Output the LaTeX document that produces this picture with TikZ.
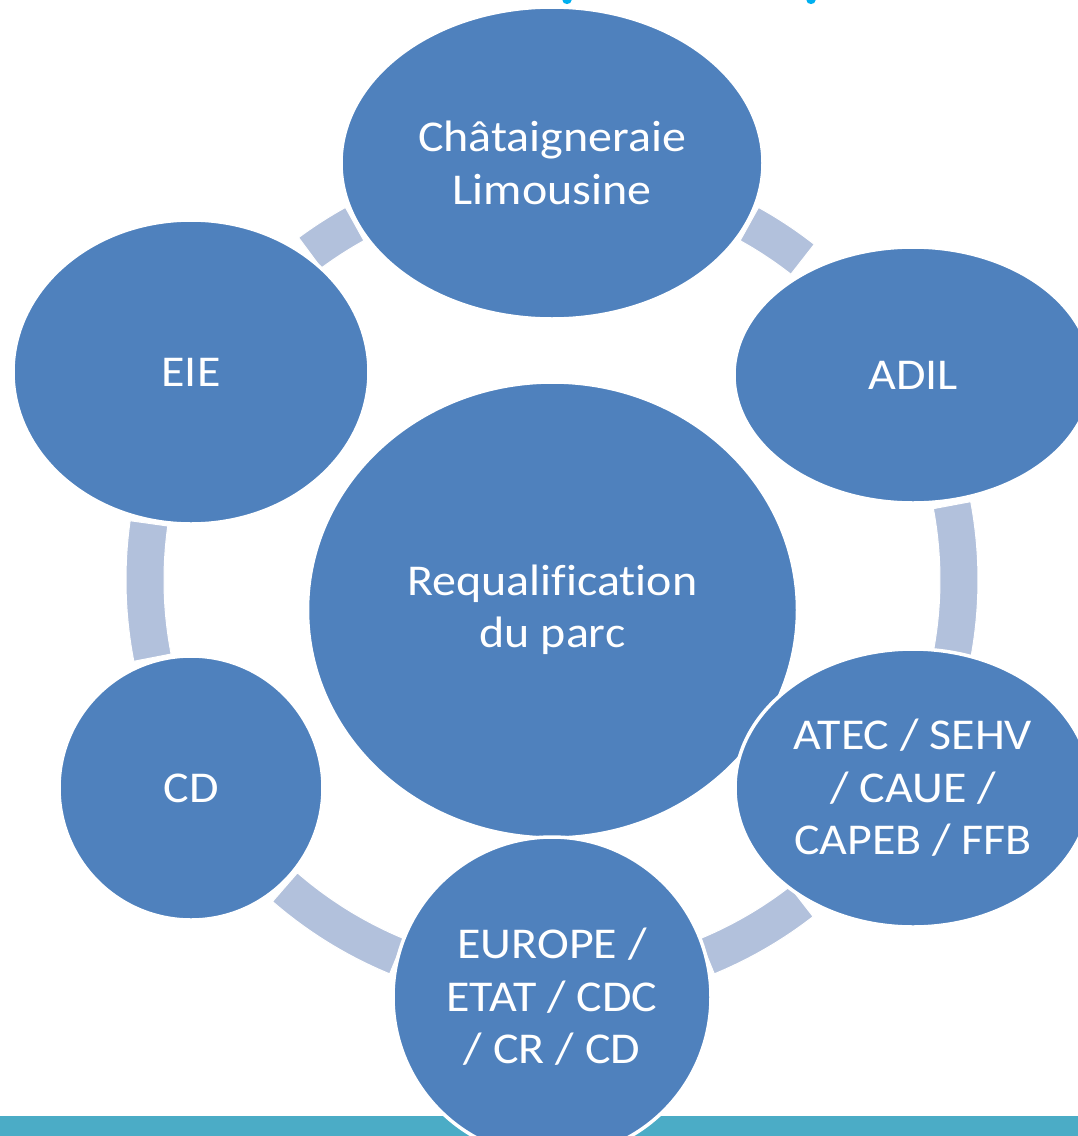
\documentclass[tikz,border=0pt]{standalone}
\usepackage{fontspec}
\setmainfont[Ligatures=NoCommon, FakeStretch=1.09]{Carlito}
\usetikzlibrary{shapes.geometric}
\definecolor{nodeblue}{HTML}{4F81BD}
\definecolor{arcblue}{HTML}{B2C1DC}
\definecolor{barteal}{HTML}{4BACC6}
\definecolor{titlecyan}{HTML}{00B0F0}
\tikzset{
  bubble/.style={ellipse, fill=nodeblue, draw=white, line width=3.5pt, inner sep=0pt,
    text=white, align=center, font=\fontsize{44}{52.5}\selectfont},
  ringband/.style={fill=arcblue, draw=white, line width=1pt}
}
\newcommand\ringarc[2]{%
  \path[ringband] (#1:388pt) arc[start angle=#1, end angle=#2, radius=388pt]
    -- (#2:426pt) arc[start angle=#2, end angle=#1, radius=426pt] -- cycle;}
\begin{document}
\begin{tikzpicture}[x=1pt,y=1pt]
\useasboundingbox (0,0) rectangle (1078,-1136);
\clip (0,0) rectangle (1078,-1136);
\fill[white] (0,0) rectangle (1078,-1136);
% title fragments at top edge
\fill[titlecyan] (567,-0.5) ellipse[x radius=4.5, y radius=3.5];
\fill[titlecyan] (811,-0.5) ellipse[x radius=4.5, y radius=3.5];
% bottom bar
\fill[barteal] (0,-1116) rectangle (1078,-1136);
% ring segments
\begin{scope}[shift={(552,-580)}]
  \ringarc{-10.3}{10.6}
  \ringarc{52}{61}
  \ringarc{119}{126.5}
  \ringarc{172}{191}
  \ringarc{229}{247.6}
  \ringarc{292.4}{307.8}
\end{scope}
% centre
\node[bubble, minimum width=490, minimum height=456] (centre) at (552.5,-610) {Requalification\\du parc};
% outer ring
\node[bubble, minimum width=422, minimum height=312] (chat) at (552,-163) {Châtaigneraie\\Limousine};
\node[bubble, minimum width=358, minimum height=256] (adil) at (913,-375) {ADIL};
\node[bubble, minimum width=356, minimum height=278] (atec) at (913,-788) {ATEC / SEHV\\/ CAUE /\\CAPEB / FFB};
\node[bubble, minimum width=318, minimum height=320] (europe) at (552,-997) {EUROPE /\\ETAT / CDC\\/ CR / CD};
\node[bubble, minimum width=264, minimum height=264] (cd) at (191,-788) {CD};
\node[bubble, minimum width=356, minimum height=304] (eie) at (191,-372) {EIE};
\end{tikzpicture}
\end{document}
